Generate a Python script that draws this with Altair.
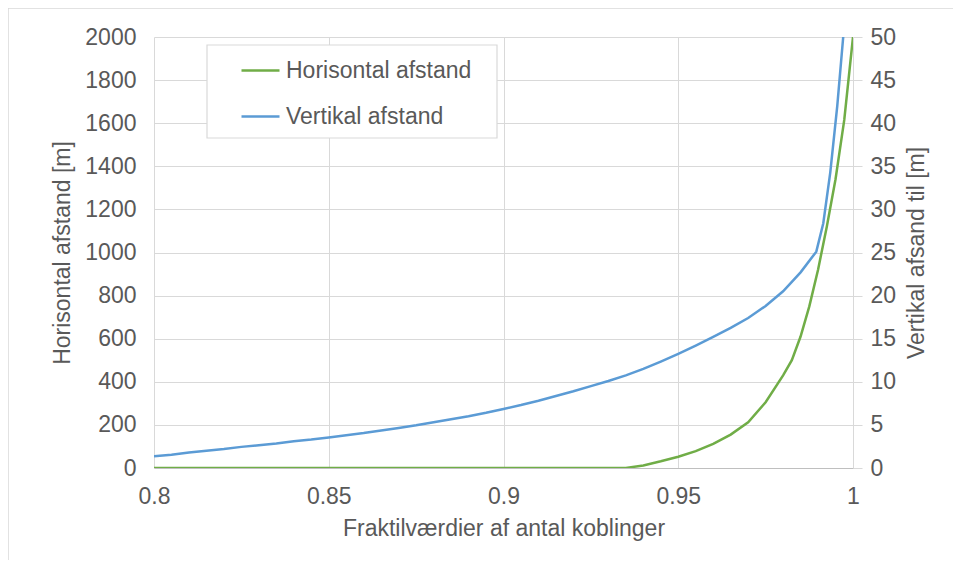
import altair as alt
import pandas as pd

# Horizontal distance (left axis, metres)
x_h = [0.80, 0.85, 0.90, 0.93, 0.935, 0.94, 0.945, 0.95, 0.955, 0.96, 0.965, 0.97,
       0.975, 0.98, 0.9825, 0.985, 0.9875, 0.99, 0.9925, 0.995, 0.9975, 1.0]
h_val = [0, 0, 0, 0, 0, 12, 31, 52, 78, 112, 155, 212,
         305, 430, 500, 610, 750, 920, 1120, 1340, 1615, 2000]

# Vertical distance (right axis, metres)
x_v = [0.800, 0.805, 0.810, 0.815, 0.820, 0.825, 0.830, 0.835, 0.840, 0.845,
       0.850, 0.855, 0.860, 0.865, 0.870, 0.875, 0.880, 0.885, 0.890, 0.895,
       0.900, 0.905, 0.910, 0.915, 0.920, 0.925, 0.930, 0.935, 0.940, 0.945,
       0.950, 0.955, 0.960, 0.965, 0.970, 0.975, 0.980, 0.985, 0.9895,
       0.9915, 0.9935, 0.9955, 0.9972]
v_val = [1.35, 1.55, 1.8, 2.0, 2.2, 2.45, 2.65, 2.85, 3.1, 3.3,
         3.55, 3.8, 4.05, 4.35, 4.65, 4.95, 5.3, 5.65, 6.0, 6.4,
         6.85, 7.3, 7.8, 8.35, 8.9, 9.5, 10.1, 10.75, 11.5, 12.35,
         13.25, 14.2, 15.2, 16.25, 17.4, 18.8, 20.5, 22.7, 25.1,
         28.4, 34.3, 42.0, 50.0]

series = ["Horisontal afstand", "Vertikal afstand"]
colors = ["#70ad47", "#5b9bd5"]
x_ticks = [0.8, 0.85, 0.9, 0.95, 1.0]

df_h = pd.DataFrame({"x": x_h, "y": h_val, "serie": series[0]})
df_v = pd.DataFrame({"x": x_v, "y": v_val, "serie": series[1]})

FONT = "Liberation Sans"
TXT = "#595959"
FS = 23

color_enc = alt.Color("serie:N", scale=alt.Scale(domain=series, range=colors),
                      legend=alt.Legend(title=None))

x_axis = alt.Axis(values=x_ticks, format="~g", grid=True, gridColor="#d9d9d9",
                  domainColor="#bfbfbf", ticks=False, labelPadding=17,
                  labelFlush=False,
                  title="Fraktilværdier af antal koblinger", titlePadding=9)
x_enc = alt.X("x:Q", scale=alt.Scale(domain=[0.8, 1.0], nice=False, zero=False),
              axis=x_axis)

green = alt.Chart(df_h).mark_line(strokeWidth=2.5, clip=True).encode(
    x=x_enc,
    y=alt.Y("y:Q", scale=alt.Scale(domain=[0, 2000], nice=False),
            axis=alt.Axis(values=list(range(0, 2001, 200)), format="d", grid=True,
                          gridColor="#d9d9d9", domain=False, ticks=False,
                          labelPadding=18, title="Horisontal afstand [m]",
                          titlePadding=10)),
    color=color_enc,
)

blue = alt.Chart(df_v).mark_line(strokeWidth=2.5, clip=True).encode(
    x=x_enc,
    y=alt.Y("y:Q", scale=alt.Scale(domain=[0, 50], nice=False),
            axis=alt.Axis(orient="right", values=list(range(0, 51, 5)), grid=False,
                          domain=False, ticks=True, tickSize=9, tickColor="#d9d9d9",
                          labelPadding=8, title="Vertikal afsand til [m]",
                          titleAngle=270, titlePadding=33)),
    color=color_enc,
)

frame_df = pd.DataFrame({"k": [0]})
frame_left = alt.Chart(frame_df).mark_rule(color="#d9d9d9", strokeWidth=1.5).encode(
    x=alt.value(-146), y=alt.value(-29), y2=alt.value(700))
frame_top = alt.Chart(frame_df).mark_rule(color="#d9d9d9", strokeWidth=1.5).encode(
    x=alt.value(-146), x2=alt.value(900), y=alt.value(-29))
legend_box = alt.Chart(frame_df).mark_rect(
    fill="white", stroke="#d9d9d9", strokeWidth=1.2).encode(
    x=alt.value(53), x2=alt.value(343), y=alt.value(8), y2=alt.value(101))

chart = alt.layer(frame_left, frame_top, green, blue, legend_box).resolve_scale(
    y="independent"
).properties(
    width=699, height=431,
    autosize=alt.AutoSizeParams(type="none"),
    padding={"left": 146, "top": 29, "right": 100, "bottom": 92},
).configure_view(stroke=None).configure_axis(
    labelFont=FONT, labelFontSize=FS, labelColor=TXT,
    titleFont=FONT, titleFontSize=FS, titleColor=TXT, titleFontWeight="normal",
).configure_legend(
    orient="none", legendX=53, legendY=8, padding=5,
    labelFont=FONT, labelFontSize=FS, labelColor=TXT,
    symbolType="stroke", symbolSize=1444, symbolStrokeWidth=2.5,
    symbolOffset=28, labelOffset=5, rowPadding=13, labelLimit=400,
)

chart.save("out.html", embed_options={"renderer": "svg", "actions": False})
